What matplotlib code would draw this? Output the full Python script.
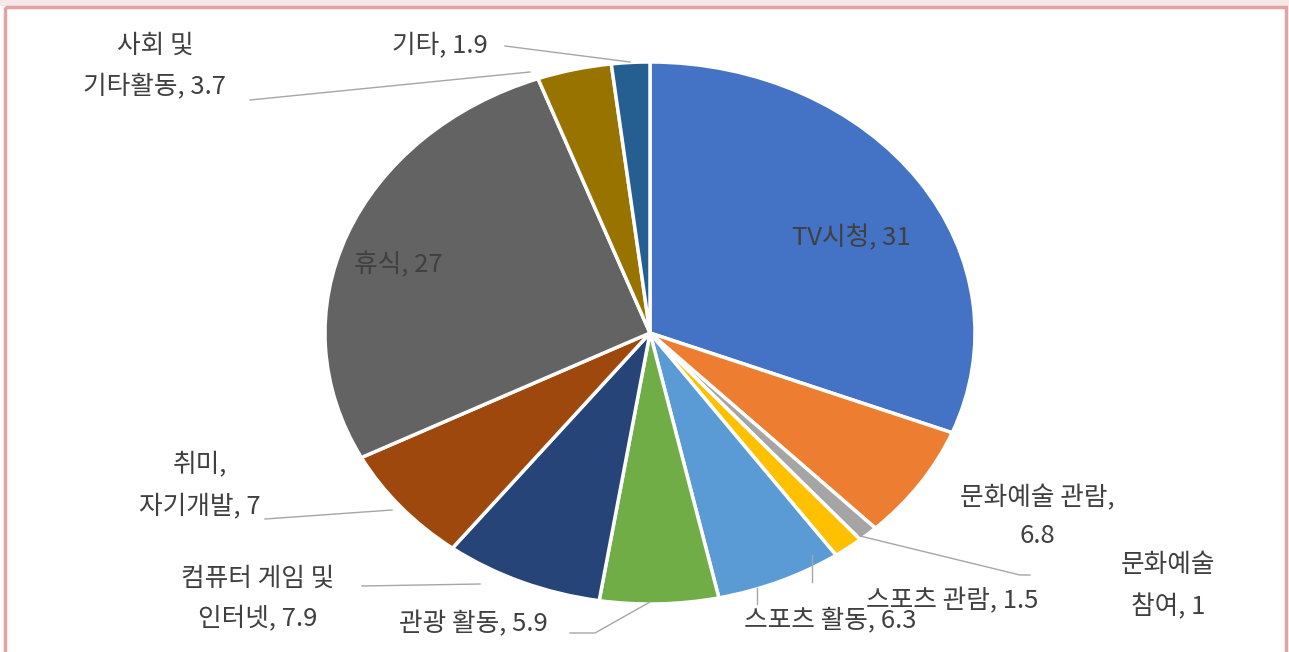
import matplotlib
matplotlib.use("Agg")
import matplotlib.pyplot as plt
from matplotlib.patches import Rectangle

plt.rcParams['font.family'] = ['Noto Sans CJK KR', 'DejaVu Sans']

labels = ['TV시청', '문화예술 관람', '문화예술 참여', '스포츠 관람', '스포츠 활동',
          '관광 활동', '컴퓨터 게임 및 인터넷', '취미, 자기개발', '휴식',
          '사회 및 기타활동', '기타']
values = [31, 6.8, 1, 1.5, 6.3, 5.9, 7.9, 7, 27, 3.7, 1.9]
label_texts = ['TV시청, 31', '문화예술 관람,\n6.8', '문화예술\n참여, 1', '스포츠 관람, 1.5',
               '스포츠 활동, 6.3', '관광 활동, 5.9', '컴퓨터 게임 및\n인터넷, 7.9',
               '취미,\n자기개발, 7', '휴식, 27', '사회 및\n기타활동, 3.7', '기타, 1.9']
colors = ['#4472C4', '#ED7D31', '#A5A5A5', '#FFC000', '#5B9BD5', '#70AD47',
          '#264478', '#9E480E', '#636363', '#997300', '#255E91']

W, H = 1289, 652
fig = plt.figure(figsize=(W / 100, H / 100), dpi=100)

# frame decorations
bg = fig.add_axes([0, 0, 1, 1])
bg.set_xlim(0, W); bg.set_ylim(H, 0); bg.axis('off')
bg.add_patch(Rectangle((0, 0), W, 6, color='#F6E8E8', lw=0))
bg.add_patch(Rectangle((5, 7), W - 8, H, fill=False, ec='#E3A3A3', lw=2.5))

# pie axes placed in pixels (ellipse, as in the reference)
cx, cy, rx, ry = 650, 333, 325, 271
ax = fig.add_axes([(cx - rx) / W, 1 - (cy + ry) / H, 2 * rx / W, 2 * ry / H])
ax.pie(values, colors=colors, startangle=90, counterclock=False,
       wedgeprops=dict(edgecolor='white', linewidth=2.5))
ax.set_aspect('auto')
ax.set_xlim(-1, 1); ax.set_ylim(-1, 1)
ax.axis('off')

def d(px, py):
    return ((px - cx) / rx, (cy - py) / ry)

txt_color = '#404040'
line_color = '#A6A6A6'
fs = 18.5

# label positions (pixel centres) and leader lines
pos = {
    0: (851, 238), 1: (1037, 517), 2: (1168, 586), 3: (952, 601),
    4: (830, 620), 5: (473, 624), 6: (258, 599), 7: (200, 486),
    8: (398, 265), 9: (155, 66), 10: (440, 45),
}
spacing = {1: 1.55}
leaders = {
    2: [(860, 536), (1020, 575), (1030, 575)],
    3: [(812, 555), (812, 582)],
    4: [(757, 588), (757, 604)],
    5: [(570, 633), (595, 633), (650, 602)],
    6: [(362, 586), (480, 584)],
    7: [(265, 519), (392, 510)],
    9: [(250, 100), (530, 72)],
    10: [(505, 46), (630, 62)],
}
for i, pts in leaders.items():
    xs, ys = zip(*[d(*p) for p in pts])
    ax.plot(xs, ys, color=line_color, lw=1, clip_on=False, zorder=1)

for i, t in enumerate(label_texts):
    x, y = d(*pos[i])
    ax.text(x, y, t, ha='center', va='center', fontsize=fs, color=txt_color,
            linespacing=spacing.get(i, 1.75), clip_on=False, zorder=5)

fig.savefig('out.png', dpi=100)
